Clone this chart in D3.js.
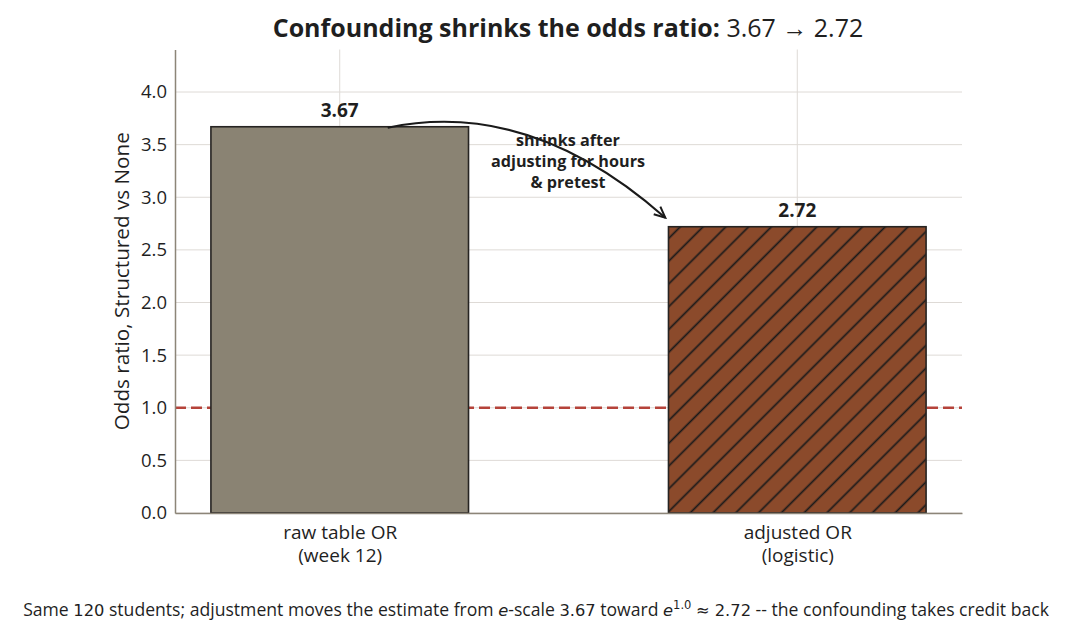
<!DOCTYPE html>
<html><head><meta charset="utf-8">
<script src="https://cdn.jsdelivr.net/npm/d3@7"></script>
<style>
body{margin:0;background:#fff;}
text{font-family:"Open Sans","Noto Sans",sans-serif;fill:#1f1f1f;}
</style></head>
<body>
<svg id="chart" width="1073" height="640"></svg>
<script>
const categories = ["raw table OR\n(week 12)", "adjusted OR\n(logistic)"];
const values = [3.67, 2.72];
const valueLabels = ["3.67", "2.72"];
const yTicks = [0.0, 0.5, 1.0, 1.5, 2.0, 2.5, 3.0, 3.5, 4.0];
const refLine = 1.0;

const svg = d3.select("#chart");
const L = 175, R = 962, T = 49.5, B = 513;
const x = d3.scaleLinear().domain([-0.36, 1.36]).range([L, R]);
const y = d3.scaleLinear().domain([0, 4.404]).range([B, T]);
const barW = 0.563;

// hatch pattern
const defs = svg.append("defs");
const sp = 16.1;
const pat = defs.append("pattern").attr("id", "hatch").attr("patternUnits", "userSpaceOnUse")
  .attr("width", sp).attr("height", sp).attr("patternTransform", "translate(668,0) rotate(45)");
pat.append("rect").attr("width", sp).attr("height", sp).attr("fill", "#8b4a2b");
pat.append("line").attr("x1", sp / 2).attr("x2", sp / 2).attr("y1", -1).attr("y2", sp + 1)
  .attr("stroke", "#1a1a1a").attr("stroke-width", 1.7);

// grid
svg.append("g").selectAll("line").data(yTicks).join("line")
  .attr("x1", L).attr("x2", R).attr("y1", d => y(d)).attr("y2", d => y(d))
  .attr("stroke", "#dedad6").attr("stroke-width", 1);
svg.append("g").selectAll("line").data(categories).join("line")
  .attr("x1", (d, i) => x(i)).attr("x2", (d, i) => x(i)).attr("y1", T).attr("y2", B)
  .attr("stroke", "#dedad6").attr("stroke-width", 1);

// ref line
svg.append("line").attr("x1", L).attr("x2", R).attr("y1", y(refLine)).attr("y2", y(refLine))
  .attr("stroke", "#b5433a").attr("stroke-width", 2.5).attr("stroke-dasharray", "11,5");

// bars
svg.append("g").selectAll("rect").data(values).join("rect")
  .attr("x", (d, i) => x(i - barW / 2)).attr("width", x(barW) - x(0))
  .attr("y", d => y(d)).attr("height", d => B - y(d))
  .attr("fill", (d, i) => i === 0 ? "#8a8373" : "url(#hatch)")
  .attr("stroke", "#262422").attr("stroke-width", 1.6);

// value labels
svg.append("g").selectAll("text").data(values).join("text")
  .attr("x", (d, i) => x(i)).attr("y", d => y(d) - 10)
  .attr("text-anchor", "middle").attr("font-weight", "bold").attr("font-size", 19)
  .text((d, i) => valueLabels[i]);

// axes
const yAxis = d3.axisLeft(y).tickValues(yTicks).tickSize(0).tickPadding(8).tickFormat(d3.format(".1f"));
const gy = svg.append("g").attr("transform", `translate(${L},0)`).call(yAxis);
gy.select(".domain").attr("stroke", "#8c8578").attr("stroke-width", 1.5);
gy.selectAll("text").attr("font-size", 18.5).attr("fill", "#1f1f1f").attr("font-family", "Open Sans");

const xAxis = d3.axisBottom(x).tickValues([0, 1]).tickSize(0).tickFormat(() => "");
const gx = svg.append("g").attr("transform", `translate(0,${B})`).call(xAxis);
gx.select(".domain").attr("stroke", "#8c8578").attr("stroke-width", 1.5);
gx.selectAll(".tick").each(function (d) {
  const lines = categories[d].split("\n");
  lines.forEach((ln, k) => d3.select(this).append("text").attr("text-anchor", "middle")
    .attr("font-size", 19).attr("fill", "#1f1f1f").attr("x", 0).attr("y", 25.5 + k * 23.5).text(ln));
});

// y label
svg.append("text").attr("transform", `translate(129,${(T + B) / 2}) rotate(-90)`)
  .attr("text-anchor", "middle").attr("font-size", 20.7).text("Odds ratio, Structured vs None");

// title
const title = svg.append("text").attr("x", 568).attr("y", 37).attr("text-anchor", "middle").attr("font-size", 25);
title.append("tspan").attr("font-weight", "bold").text("Confounding shrinks the odds ratio:");
title.append("tspan").text(" 3.67 \u2192 2.72");

// arrow
defs.append("marker").attr("id", "ah").attr("viewBox", "-12 -7 14 14").attr("refX", 0).attr("refY", 0)
  .attr("markerWidth", 14).attr("markerHeight", 14).attr("markerUnits", "userSpaceOnUse").attr("orient", "auto")
  .append("path").attr("d", "M-11,-5 L0,0 L-11,5").attr("fill", "none").attr("stroke", "#1a1a1a").attr("stroke-width", 2);
const p0 = [x(0) + 48, y(values[0]) + 1], p2 = [x(1) - 132, y(values[1]) - 9];
svg.append("path").attr("d", `M${p0[0]},${p0[1]} Q${530},${98} ${p2[0]},${p2[1]}`)
  .attr("fill", "none").attr("stroke", "#1a1a1a").attr("stroke-width", 2).attr("marker-end", "url(#ah)");

// annotation text
const ann = ["shrinks after", "adjusting for hours", "& pretest"];
svg.append("g").selectAll("text").data(ann).join("text")
  .attr("x", 568).attr("y", (d, i) => 145.5 + i * 21).attr("text-anchor", "middle")
  .attr("font-weight", "bold").attr("font-size", 16.2).text(d => d);

// footer
const f = svg.append("text").attr("x", 536).attr("y", 616).attr("text-anchor", "middle").attr("font-size", 17.6);
const m = "DejaVu Sans";
f.append("tspan").text("Same ");
f.append("tspan").attr("font-family", m).attr("font-size", 16.3).text("120");
f.append("tspan").text(" students; adjustment moves the estimate from ");
f.append("tspan").attr("font-family", m).attr("font-style", "italic").attr("font-size", 16.3).text("e");
f.append("tspan").text("-scale ");
f.append("tspan").attr("font-family", m).attr("font-size", 16.3).text("3.67");
f.append("tspan").text(" toward ");
f.append("tspan").attr("font-family", m).attr("font-style", "italic").attr("font-size", 16.3).text("e");
f.append("tspan").attr("font-family", m).attr("font-size", 11.5).attr("dy", -7).text("1.0");
f.append("tspan").attr("dy", 7).text(" ");
f.append("tspan").attr("font-family", m).attr("font-size", 16.3).text("\u2248 2.72");
f.append("tspan").text(" -- the confounding takes credit back");
</script>
</body></html>
